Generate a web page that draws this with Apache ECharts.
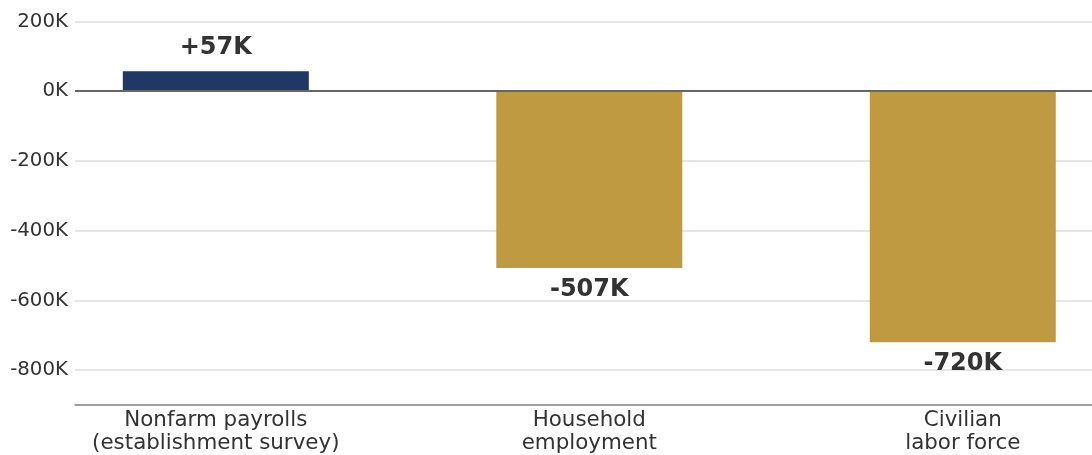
<!DOCTYPE html>
<html><head><meta charset="utf-8">
<script src="https://cdn.jsdelivr.net/npm/echarts@6/dist/echarts.min.js"></script>
<style>html,body{margin:0;padding:0;background:#fff}#c{width:1092px;height:455px}</style>
</head><body><div id="c"></div>
<script>
const categories = ['Nonfarm payrolls\n(establishment survey)', 'Household\nemployment', 'Civilian\nlabor force'];
const values = [57000, -507000, -720000];
const valueLabels = ['+57K', '-507K', '-720K'];
const yTicks = [200000, 0, -200000, -400000, -600000, -800000];
const colors = ['#1f3864', '#c09a40', '#c09a40'];

const FONT = '"DejaVu Sans", sans-serif';
const chart = echarts.init(document.getElementById('c'));
chart.setOption({
  animation: false,
  grid: {left: 75, right: 0, top: 21.5, bottom: 47.5},
  xAxis: {
    type: 'value', min: -0.377, max: 2.346,
    axisLine: {show: true, onZero: false, lineStyle: {color: '#808080', width: 1.5}},
    axisTick: {show: false},
    splitLine: {show: false},
    axisLabel: {
      customValues: [0, 1, 2],
      formatter: v => categories[Math.round(v)],
      color: '#333', fontSize: 21.4, fontFamily: FONT, lineHeight: 23, margin: 4
    }
  },
  yAxis: {
    type: 'value', min: -900000, max: 200000,
    axisLine: {show: false},
    axisTick: {show: false, customValues: yTicks},
    splitLine: {show: true, lineStyle: {color: '#dcdcdc', width: 1.5}},
    axisLabel: {
      customValues: yTicks,
      formatter: v => (v / 1000) + 'K',
      color: '#333', fontSize: 19.8, fontFamily: FONT, margin: 7
    }
  },
  series: [{
    type: 'bar',
    barWidth: 186,
    data: values.map((v, i) => ({
      value: [i, v],
      itemStyle: {color: colors[i]},
      label: {
        show: true,
        position: v >= 0 ? 'top' : 'bottom',
        distance: v >= 0 ? 12 : 10,
        formatter: valueLabels[i],
        fontSize: 24, fontWeight: 'bold', color: '#333', fontFamily: FONT
      }
    })),
    markLine: {
      silent: true, symbol: 'none', label: {show: false},
      lineStyle: {color: '#666', width: 2, type: 'solid'},
      data: [{yAxis: 0}]
    },
    z: 2
  }]
});
</script></body></html>
